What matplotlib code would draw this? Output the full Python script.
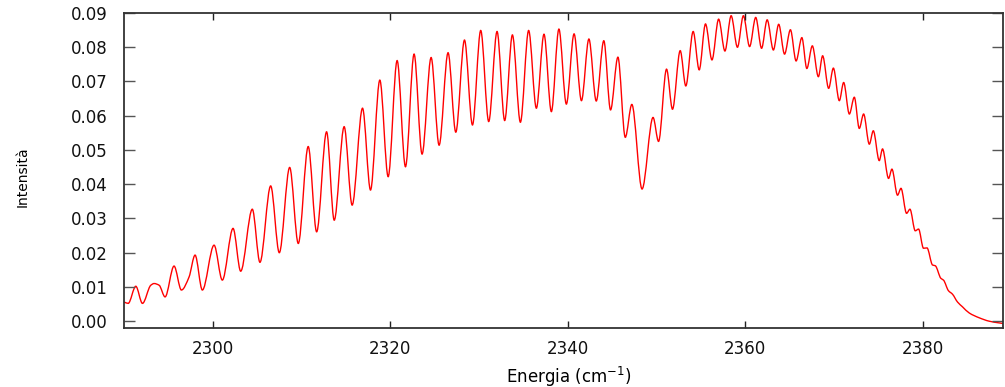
'''
CO2 band spectrum: intensity vs energy, line through the local maxima/minima
read off the reference plot.
'''
import matplotlib
matplotlib.use('Agg')
import matplotlib.pyplot as plt
import numpy as np
from matplotlib.path import Path
from matplotlib.patches import PathPatch

# energy (cm-1) of each turning point of the spectrum
energy = [2290.02, 2290.47, 2291.33, 2292.08, 2293.02, 2293.39, 2293.96, 2294.63,
          2295.64, 2296.47, 2297.33, 2298.01, 2298.83, 2300.15, 2301.08, 2302.29,
          2303.15, 2304.46, 2305.32, 2306.53, 2307.50, 2308.67, 2309.64, 2310.76,
          2311.71, 2312.83, 2313.69, 2314.81, 2315.71, 2316.88, 2317.78, 2318.83,
          2319.77, 2320.78, 2321.72, 2322.69, 2323.59, 2324.61, 2325.51, 2326.52,
          2327.39, 2328.37, 2329.27, 2330.20, 2331.10, 2332.04, 2332.90, 2333.77,
          2334.67, 2335.60, 2336.47, 2337.33, 2338.16, 2339.01, 2339.85, 2340.72,
          2341.55, 2342.39, 2343.22, 2344.07, 2344.83, 2345.66, 2346.49, 2347.23,
          2348.38, 2349.62, 2350.24, 2351.14, 2351.81, 2352.68, 2353.31, 2354.14,
          2354.82, 2355.53, 2356.26, 2357.01, 2357.72, 2358.42, 2359.13, 2359.80,
          2360.50, 2361.19, 2361.85, 2362.48, 2363.18, 2363.78, 2364.44, 2365.10,
          2365.74, 2366.39, 2366.95, 2367.57, 2368.25, 2368.73, 2369.41, 2369.94,
          2370.61, 2371.10, 2371.74, 2372.30, 2372.86, 2373.35, 2373.99, 2374.44,
          2375.11, 2375.48, 2376.16, 2376.54, 2377.17, 2377.56, 2378.19, 2378.57,
          2379.17, 2379.54, 2380.10, 2380.49, 2381.12, 2381.42, 2382.06, 2382.35,
          2382.91, 2383.36, 2383.93, 2384.49, 2385.25, 2386.37, 2387.50, 2388.62,
          2389.18]

intensity = [0.0056, 0.0052, 0.0102, 0.0052, 0.0105, 0.0110, 0.0105, 0.0071,
             0.0161, 0.0091, 0.0129, 0.0193, 0.0091, 0.0222, 0.0120, 0.0271,
             0.0146, 0.0327, 0.0172, 0.0395, 0.0200, 0.0449, 0.0227, 0.0510,
             0.0261, 0.0553, 0.0295, 0.0568, 0.0339, 0.0622, 0.0383, 0.0704,
             0.0422, 0.0761, 0.0451, 0.0780, 0.0488, 0.0770, 0.0514, 0.0784,
             0.0552, 0.0821, 0.0573, 0.0849, 0.0583, 0.0846, 0.0586, 0.0836,
             0.0581, 0.0849, 0.0622, 0.0838, 0.0612, 0.0853, 0.0634, 0.0839,
             0.0644, 0.0824, 0.0643, 0.0819, 0.0617, 0.0771, 0.0537, 0.0633,
             0.0386, 0.0595, 0.0525, 0.0736, 0.0619, 0.0790, 0.0687, 0.0846,
             0.0734, 0.0868, 0.0763, 0.0882, 0.0789, 0.0892, 0.0800, 0.0892,
             0.0802, 0.0887, 0.0797, 0.0880, 0.0792, 0.0867, 0.0780, 0.0851,
             0.0760, 0.0828, 0.0738, 0.0804, 0.0714, 0.0775, 0.0680, 0.0739,
             0.0644, 0.0697, 0.0605, 0.0654, 0.0563, 0.0605, 0.0517, 0.0556,
             0.0469, 0.0503, 0.0417, 0.0444, 0.0368, 0.0388, 0.0315, 0.0327,
             0.0264, 0.0269, 0.0213, 0.0214, 0.0164, 0.0162, 0.0125, 0.0120,
             0.0089, 0.0079, 0.0056, 0.0042, 0.0024, 0.0010, 0.0000, -0.0005,
             -0.0007]

xticks = [2300, 2320, 2340, 2360, 2380]
yticks = [0.00, 0.01, 0.02, 0.03, 0.04, 0.05, 0.06, 0.07, 0.08, 0.09]


def smooth_path(x, y):
    # monotone cubic (pchip) tangents -> bezier segments, flat at turning points
    x = np.asarray(x, float)
    y = np.asarray(y, float)
    h = np.diff(x)
    d = np.diff(y) / h
    m = np.zeros_like(y)
    for k in range(1, len(y) - 1):
        if d[k - 1] * d[k] > 0:
            w1 = 2 * h[k] + h[k - 1]
            w2 = h[k] + 2 * h[k - 1]
            m[k] = (w1 + w2) / (w1 / d[k - 1] + w2 / d[k])
    m[0] = d[0]
    m[-1] = d[-1]
    verts = [(x[0], y[0])]
    codes = [Path.MOVETO]
    for k in range(len(h)):
        verts += [(x[k] + h[k] / 3, y[k] + m[k] * h[k] / 3),
                  (x[k + 1] - h[k] / 3, y[k + 1] - m[k + 1] * h[k] / 3),
                  (x[k + 1], y[k + 1])]
        codes += [Path.CURVE4] * 3
    return Path(verts, codes)


plt.rcParams['font.family'] = 'DejaVu Sans'
fig = plt.figure(figsize=(10.05, 3.87), dpi=100)
ax = fig.add_axes([124 / 1005, 1 - 327.7 / 387, 878.5 / 1005, 314.7 / 387])

ax.add_patch(PathPatch(smooth_path(energy, intensity), fill=False,
                       edgecolor='red', lw=1.0))

ax.set_xlim(2290, 2389)
ax.set_ylim(-0.0019, 0.09)
ax.set_xticks(xticks)
ax.set_yticks(yticks)
ax.set_yticklabels(['%.2f' % v for v in yticks])

for s in ax.spines.values():
    s.set_linewidth(1.3)
    s.set_color('#333333')
ax.tick_params(axis='both', direction='in', top=True, right=True,
               labelsize=12, colors='#111111')
ax.tick_params(axis='x', length=4.7, width=1.0, pad=9, color='#222222')
ax.tick_params(axis='y', length=8, width=1.0, pad=12, color='#555555')

ax.set_xlabel('Energia (cm$^{-1}$)', fontsize=12, va='top')
ax.xaxis.set_label_coords(0.506, -0.118)
ax.set_ylabel('Intensità', fontsize=10)
ax.yaxis.set_label_coords(-0.107, 0.48)

plt.savefig('out.png', dpi=100)
